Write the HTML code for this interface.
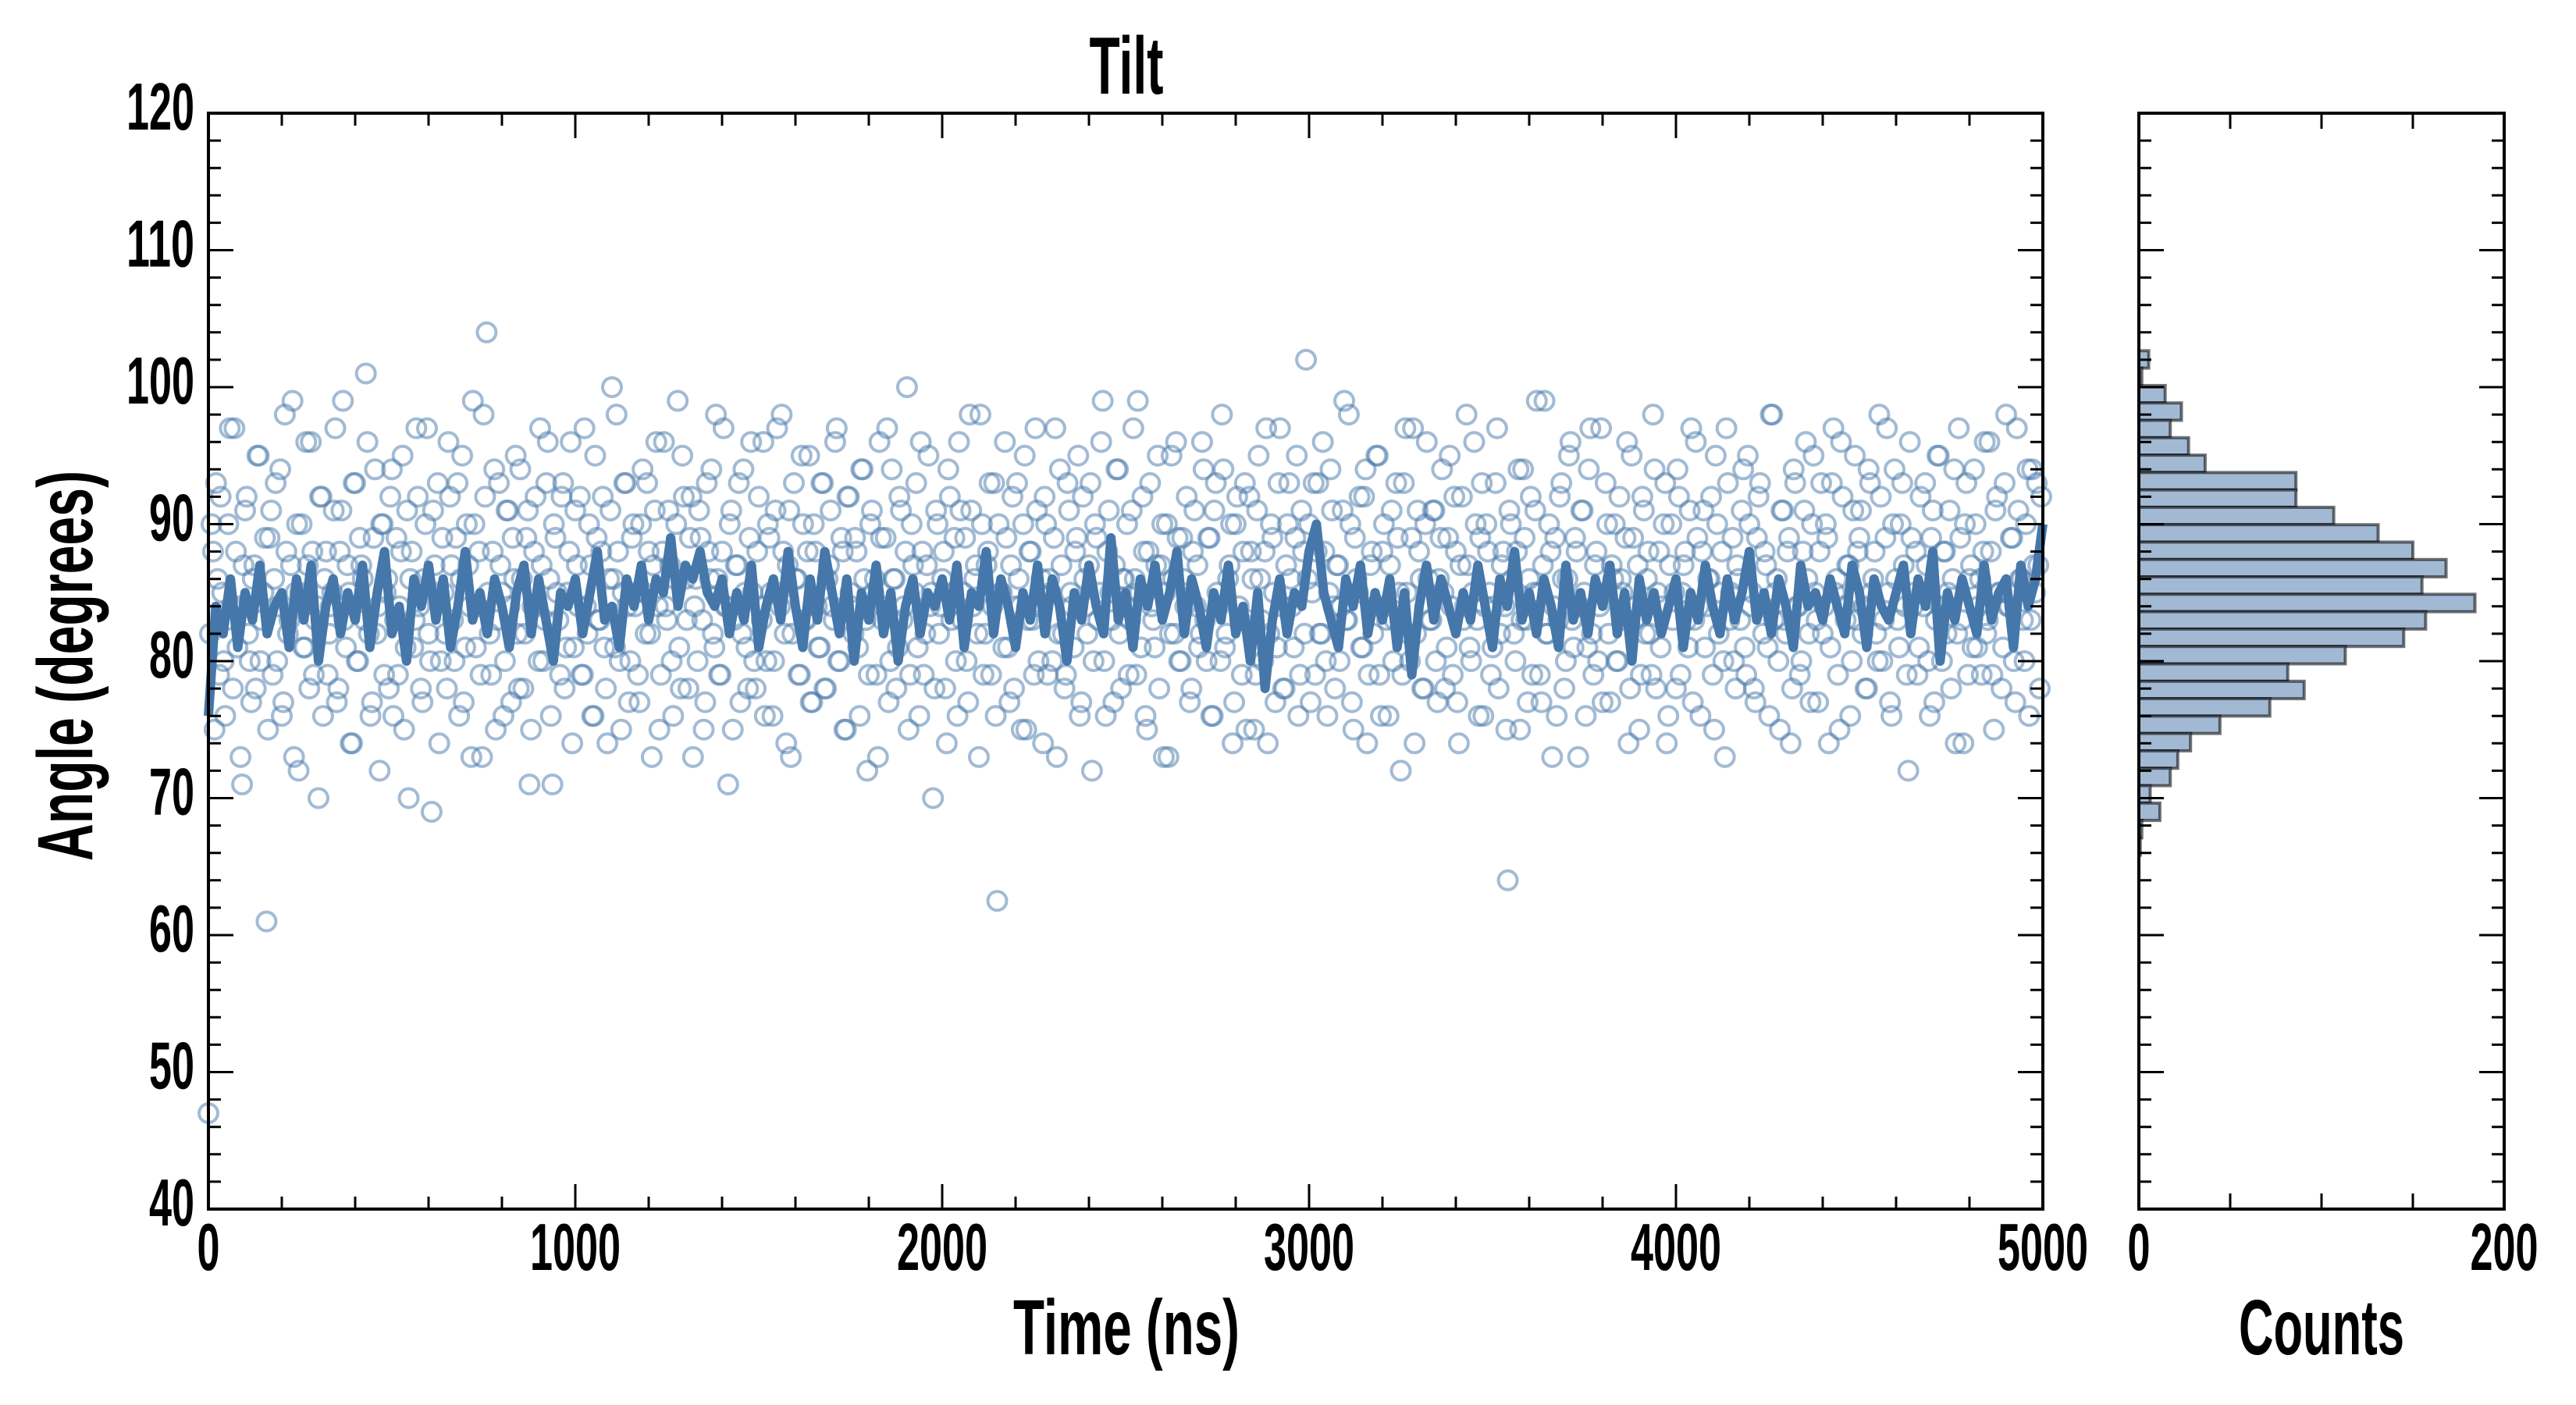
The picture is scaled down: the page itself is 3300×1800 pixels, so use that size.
<!DOCTYPE html>
<html><head><meta charset="utf-8"><title>Tilt</title>
<style>
html,body{margin:0;padding:0;background:#fff;}
svg{display:block;}
text{font-family:"Liberation Sans Narrow","Liberation Sans",sans-serif;font-weight:bold;fill:#000;}
</style></head>
<body>
<svg id="chart" width="3300" height="1800" viewBox="0 0 3300 1800" xmlns="http://www.w3.org/2000/svg">
  <text x="1443" y="120" font-size="104" text-anchor="middle" textLength="95" lengthAdjust="spacingAndGlyphs">Tilt</text>
  <g id="main"></g>
  <g id="hist"></g>
  <text x="1443" y="1735" font-size="100" text-anchor="middle" textLength="290" lengthAdjust="spacingAndGlyphs">Time (ns)</text>
  <text x="2974" y="1735" font-size="100" text-anchor="middle" textLength="212" lengthAdjust="spacingAndGlyphs">Counts</text>
  <text transform="translate(118,853) rotate(-90)" font-size="100" text-anchor="middle" textLength="500" lengthAdjust="spacingAndGlyphs">Angle (degrees)</text>
</svg>
<script>
// ---- data ----
const scatterValues = [
47,90,75,86,92,80,83,97,78,88,84,71,91,82,77,87,95,80,85,61,
89,79,93,84,76,98,82,87,73,90,85,81,96,78,88,83,70,92,86,79,
84,91,77,88,99,81,85,74,93,80,87,83,96,76,89,82,72,90,85,78,
94,83,79,88,75,91,86,81,97,84,77,90,82,69,87,93,80,85,78,92,
83,89,76,95,81,87,73,90,84,79,98,104,82,88,75,93,85,80,91,77,
86,82,94,78,89,71,84,92,80,87,83,96,76,90,85,79,93,81,88,74,
91,84,79,97,82,87,76,89,83,92,78,86,100,81,88,75,93,84,80,90,
85,77,94,82,88,73,91,84,79,96,83,87,76,90,81,95,86,78,92,84,
80,89,75,93,86,82,98,79,88,84,71,91,83,87,77,94,81,89,85,78,
92,83,76,90,85,80,97,84,88,74,91,82,86,79,95,83,88,77,90,84,
81,93,78,87,84,96,80,89,75,92,85,82,88,76,94,83,79,91,86,73,
89,84,97,80,86,78,92,83,88,75,90,85,81,96,79,87,84,70,91,82,
86,78,94,83,89,76,91,85,80,98,84,87,73,90,82,88,79,93,62.5,85,
81,89,77,92,84,86,75,95,83,88,79,91,84,74,90,86,80,97,82,87,
78,93,85,81,89,76,92,84,87,72,90,83,96,80,88,85,77,94,82,86,
84,79,91,86,99,81,88,75,93,83,87,78,90,85,73,95,82,89,80,86,
92,77,88,84,81,96,83,89,76,91,85,80,94,82,87,74,90,84,79,93,
83,88,75,91,86,80,97,82,89,77,93,84,78,90,86,81,95,79,88,102,
90,85,79,93,82,88,76,94,84,87,80,91,83,98,77,89,85,81,92,74,
87,82,95,79,88,84,76,91,83,89,72,93,85,80,97,82,88,78,90,86,
83,91,77,89,85,81,95,79,88,74,92,84,87,80,96,83,89,76,90,85,
81,93,78,87,84,64,90,82,88,75,94,83,86,79,91,85,77,99,82,88,
84,76,92,86,80,95,83,89,73,91,85,81,97,79,88,84,77,93,82,87,
90,80,86,83,96,78,89,84,75,92,82,88,79,94,85,81,90,74,87,83,
78,92,85,88,81,97,83,89,76,91,84,86,79,95,82,88,73,93,85,80,
87,83,94,79,90,85,77,92,84,88,81,98,83,86,75,91,82,89,78,93,
84,80,91,86,77,95,83,88,82,90,74,93,85,79,96,84,87,76,91,83,
89,82,78,94,85,88,80,92,83,97,77,90,86,81,93,84,72,89,85,79,
92,84,87,76,91,83,95,80,88,85,78,94,82,89,74,93,86,81,90,84,
79,96,83,88,75,92,85,81,98,84,89,77,91,86,80,94,83,87,93,78
];
const scatterValuesB = [
82,88,93,79,85,76,90,84,97,81,73,87,92,80,86,78,95,83,89,75,
91,86,80,94,77,88,83,99,85,72,90,81,87,96,79,84,92,76,88,82,
85,97,78,91,83,87,74,93,80,89,86,101,82,77,94,84,90,79,86,92,
76,89,84,95,81,70,88,83,92,78,86,97,80,91,85,74,89,82,96,87,
80,93,86,77,90,84,99,81,88,73,92,85,79,94,83,87,76,91,84,89,
95,78,86,82,91,75,88,84,97,80,93,86,71,89,83,92,78,85,96,81,
87,92,79,84,90,76,95,83,88,81,74,91,86,98,80,85,93,77,89,84,
79,90,85,93,82,87,96,75,88,84,91,80,86,99,78,92,83,89,73,86,
91,83,77,88,94,81,86,79,97,84,90,75,87,93,82,85,78,96,80,88,
84,96,80,89,76,91,85,98,82,87,73,93,86,79,90,83,95,77,88,81,
93,78,86,91,83,97,80,88,75,92,84,89,81,94,86,72,90,85,79,96,
83,89,77,94,86,81,91,84,100,79,87,93,76,88,82,95,85,78,90,84,
88,74,92,85,80,96,83,89,77,91,86,82,98,79,87,93,84,76,90,85,
96,81,87,78,93,84,90,75,88,83,97,80,86,92,79,85,89,73,94,82,
79,91,84,88,95,77,86,82,93,80,89,85,99,76,91,83,87,94,78,86,
90,83,97,79,85,92,76,88,84,81,95,87,73,90,82,86,96,80,89,84,
85,78,91,87,82,94,80,89,76,93,84,98,81,86,90,77,92,83,88,75,
92,86,79,95,83,88,74,90,85,81,97,78,87,93,84,89,76,91,82,86,
77,93,88,82,96,80,85,91,78,87,84,99,83,90,75,86,92,81,94,79,
88,84,95,76,90,83,87,80,93,85,79,97,82,89,74,91,86,78,96,83,
91,80,86,94,78,89,84,92,77,87,83,98,81,85,90,76,93,84,88,79,
84,97,82,88,75,91,86,80,94,83,89,77,92,85,99,79,87,82,90,73,
89,83,93,78,86,96,81,88,84,91,76,94,82,87,80,97,85,90,77,86,
80,92,85,89,74,95,83,87,79,91,86,82,98,78,88,84,93,76,90,85,
94,79,87,83,91,77,96,84,88,81,86,92,75,90,85,80,97,83,89,78,
86,91,81,95,84,78,89,93,82,87,76,98,85,80,91,83,88,74,94,84,
79,88,96,82,90,85,77,93,84,89,81,97,86,75,92,83,87,80,95,88,
91,84,78,93,86,82,98,80,89,85,76,94,83,90,87,79,96,84,88,81,
85,93,80,89,77,95,84,88,82,91,86,74,97,83,90,79,87,94,81,86,
88,82,96,79,91,85,78,93,84,89,80,97,86,83,90,76,94,85,87,92
];
const timeMax = 5000;
const lineValues = [
76,84,82,86,81,85,83,87,82,84, 85,81,86,83,87,80,84,86,82,85,
83,87,81,85,88,82,84,80,86,84, 87,83,86,81,84,88,83,85,82,86,
84,81,85,87,82,86,83,80,85,84, 86,82,85,88,83,84,81,86,84,87,
83,86,85,89,84,87,86,88,85,84, 86,82,85,83,87,81,84,86,83,88,
84,81,86,83,88,85,82,86,80,85, 83,87,82,85,80,84,86,82,85,84,
86,83,87,81,85,84,88,82,86,84, 81,85,83,87,82,86,84,80,85,83,
87,84,82,89,83,85,81,86,84,87, 83,85,88,82,86,84,81,85,83,87,
82,84,80,85,78,83,86,82,85,84, 88,90,85,83,81,86,84,87,82,85,
83,86,81,85,79,84,87,83,86,84, 82,85,83,87,84,81,86,84,88,83,
85,82,86,84,81,87,83,85,82,86, 84,87,82,85,80,86,83,85,82,84,
86,81,85,83,87,84,82,86,83,85, 88,83,85,82,86,84,81,87,84,85,
83,86,84,82,87,85,81,86,84,83, 85,87,82,86,84,88,80,85,83,86,
84,82,87,83,85,86,81,87,84,86, 90
];
const histBinStart = 102.66;
const histBinWidth = 1.27;
const histCounts = [5.4,1.6,14.4,23.3,17.2,27.2,36.3,86,86,106.7,131,150,168.2,155,184,157,145,113,81.5,90.5,71.7,44.4,28.3,21.3,17.2,6.2,11.5,1.6,0.8];
const yTickLabels = [40,50,60,70,80,90,100,110,120];
const xTickLabels = [0,1000,2000,3000,4000,5000];
const countTickLabels = [0,200];

// ---- scales ----
const X0=267, X1=2617, Y0=145, Y1=1549, H0=2740, H1=3208;
const yMin=40, yMax=120;
const sx = t => X0 + (t/timeMax)*(X1-X0);
const sy = v => Y1 - (v-yMin)/(yMax-yMin)*(Y1-Y0);
const sc = c => H0 + c/200*(H1-H0);
const NS="http://www.w3.org/2000/svg";
function mk(tag, attrs, parent){const e=document.createElementNS(NS,tag);for(const k in attrs)e.setAttribute(k,attrs[k]);parent.appendChild(e);return e;}
const main=document.getElementById('main');
const hist=document.getElementById('hist');

// scatter
const sg=mk('g',{},main);


function drawScatter(arr, offset){
  arr.forEach((v,i)=>{
    const c=mk('circle',{cx:sx((i+offset)*timeMax/arr.length),cy:sy(v),r:12,fill:'none',stroke:'#4677a9','stroke-opacity':0.5,'stroke-width':4},sg);
    
    
  });
}
drawScatter(scatterValues,0);
drawScatter(scatterValuesB,0.5);
// running average line
let d='';
lineValues.forEach((v,i)=>{d+=(i?'L':'M')+sx(i*timeMax/(lineValues.length-1)).toFixed(1)+','+sy(v).toFixed(1);});
const ln=mk('path',{d:d,fill:'none',stroke:'#4577aa','stroke-width':12,'stroke-linejoin':'round'},main);



// main frame & ticks
const fr=mk('rect',{x:X0,y:Y0,width:X1-X0,height:Y1-Y0,fill:'none',stroke:'#000','stroke-width':4},main);


let td='';
for(let v=40;v<=120;v+=2){const y=sy(v);const L=(v%10===0)?32:16;td+=`M${X0},${y}h${L}M${X1},${y}h${-L}`;}
for(let t=0;t<=5000;t+=200){const x=sx(t);const L=(t%1000===0)?32:16;td+=`M${x},${Y1}v${-L}M${x},${Y0}v${L}`;}
const tk=mk('path',{d:td,stroke:'#000','stroke-width':3},main);


yTickLabels.forEach(v=>{
  const s=String(v);
  const t=mk('text',{x:249,y:sy(v)+21,'font-size':85,'text-anchor':'end',textLength:29*s.length,lengthAdjust:'spacingAndGlyphs'},main);
  t.textContent=s;
  
  
});
xTickLabels.forEach(v=>{
  const s=String(v);
  const t=mk('text',{x:sx(v),y:1627,'font-size':85,'text-anchor':'middle',textLength:29*s.length,lengthAdjust:'spacingAndGlyphs'},main);
  t.textContent=s;
  
  
});

// histogram
histCounts.forEach((c,i)=>{
  const top=sy(histBinStart-i*histBinWidth), bot=sy(histBinStart-(i+1)*histBinWidth);
  const r=mk('rect',{x:H0,y:top,width:sc(c)-H0,height:bot-top,fill:'#a2b9d4',stroke:'#000','stroke-opacity':0.55,'stroke-width':4},hist);
  
  
});
const hf=mk('rect',{x:H0,y:Y0,width:H1-H0,height:Y1-Y0,fill:'none',stroke:'#000','stroke-width':4},hist);


let hd='';
for(let v=40;v<=120;v+=2){const y=sy(v);const L=(v%10===0)?32:16;hd+=`M${H0},${y}h${L}M${H1},${y}h${-L}`;}
for(let c=0;c<=200;c+=50){const x=sc(c);hd+=`M${x},${Y1}v-20M${x},${Y0}v20`;}
const ht=mk('path',{d:hd,stroke:'#000','stroke-width':3},hist);


countTickLabels.forEach(v=>{
  const s=String(v);
  const t=mk('text',{x:sc(v),y:1627,'font-size':85,'text-anchor':'middle',textLength:29*s.length,lengthAdjust:'spacingAndGlyphs'},hist);
  t.textContent=s;
  
  
});
</script>
</body></html>
